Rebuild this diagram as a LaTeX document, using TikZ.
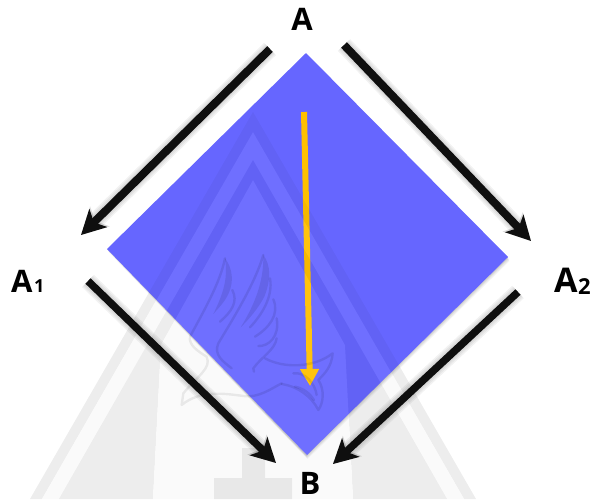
\documentclass[tikz,border=0pt]{standalone}
\usepackage{fontspec}
\setmainfont{Open Sans}
\usetikzlibrary{arrows.meta}
\definecolor{dia}{HTML}{6666FF}
\definecolor{gold}{HTML}{FFC000}
\tikzset{
  x=1pt,y=-1pt,
  lab/.style={inner sep=0pt,text=black,font=\fontsize{31}{31}\selectfont\bfseries},
  blackarrow/.style={draw=black!94,line width=8pt,-{Stealth[length=24pt,width=25pt,inset=6pt]}},
  shadowarrow/.style={draw=black,opacity=.05,-{Stealth[length=26pt,width=27pt,inset=6pt]}},
  goldarrow/.style={draw=gold,line width=6pt,-{Triangle[length=17pt,width=18pt]}},
  wmdark/.style={fill=black,fill opacity=#1,draw=none},
  wmlight/.style={fill=#1,draw=none},
  birdline/.style={draw=black,draw opacity=#1,line width=2.4pt,fill=none,line cap=round,line join=round},
  birdfill/.style={fill=black,fill opacity=#1,draw=none},
}
% #1 opacity of the dark parts, #2 style of the light parts, #3 opacity of the bird
\newcommand{\drawmark}[3]{%
  \fill[wmdark=#1] (253,112) -- (30,499) -- (42,499) -- (253,132) -- (464,499) -- (476,499) -- cycle;
  \fill[#2] (253,132) -- (42,499) -- (59,499) -- (253,160) -- (447,499) -- (464,499) -- cycle;
  \fill[wmdark=#1] (253,160) -- (59,499) -- (153,499) -- (161,345) -- (253,180) -- (345,345) -- (353,499) -- (447,499) -- cycle;
  \fill[#2] (253,180) -- (161,345) -- (153,499) -- (353,499) -- (345,345) -- cycle;
  \fill[wmdark=#1] (242,448) -- (265,448) -- (265,478) -- (292,478) -- (292,499) -- (214,499) -- (214,478) -- (242,478) -- cycle;
  \begin{scope}[shift={(170,240)},x=.3333pt,y=-.3333pt]
    \draw[birdline=#3] (165,55) .. controls (150,130) and (100,215) .. (60,290) .. controls (55,315) and (85,335) .. (110,350) .. controls (125,385) and (85,405) .. (40,460) -- (35,495) .. controls (90,450) and (160,460) .. (220,468) .. controls (265,475) and (305,445) .. (335,430);
    \fill[birdfill=#3] (165,55) .. controls (188,85) and (192,125) .. (176,160) .. controls (165,185) and (145,205) .. (130,222) .. controls (155,170) and (176,120) .. (165,55) -- cycle;
    \draw[birdline=#3] (187,150) .. controls (205,185) and (185,215) .. (150,245);
    \draw[birdline=#3] (280,45) .. controls (255,130) and (190,235) .. (145,310) .. controls (130,345) and (160,365) .. (185,385);
    \fill[birdfill=#3] (280,45) .. controls (303,75) and (303,120) .. (283,170) .. controls (265,205) and (235,240) .. (212,262) .. controls (250,200) and (282,130) .. (280,45) -- cycle;
    \draw[birdline=#3] (300,115) .. controls (310,170) and (275,225) .. (240,262);
    \draw[birdline=#3] (310,178) .. controls (330,225) and (295,265) .. (255,290);
    \draw[birdline=#3] (320,235) .. controls (330,290) and (295,320) .. (265,318);
    \draw[birdline=#3] (320,295) .. controls (315,330) and (275,350) .. (250,385) -- (252,395);
    \draw[birdline=#3] (285,355) .. controls (340,385) and (430,385) .. (488,340) .. controls (485,380) and (465,400) .. (445,420) .. controls (465,450) and (460,490) .. (445,510) .. controls (425,470) and (385,440) .. (335,432);
    \draw[birdline=#3] (370,400) .. controls (405,395) and (435,430) .. (440,465);
    \draw[birdline=#3] (375,440) .. controls (400,445) and (420,460) .. (432,480);
  \end{scope}
}
\begin{document}
\begin{tikzpicture}
\useasboundingbox (0,0) rectangle (593,499);
% watermark on the paper
\begin{scope}
\clip (0,0) rectangle (593,499);
\drawmark{.07}{black!2}{.07}
\end{scope}
% diamond with soft shadow
\foreach \d/\o in {4/.04,3/.05,2/.06,1/.07}{
  \fill[black,opacity=\o] (306+\d*.4,53+\d) -- (508+\d*.4,257+\d) -- (306+\d*.4,455+\d) -- (107+\d*.4,248+\d) -- cycle;
}
\fill[dia] (306,53) -- (508,257) -- (307,455) -- (107,249) -- cycle;
% named ends of the connectors
\coordinate (s1) at (270,49);  \coordinate (e1) at (81,235);
\coordinate (s2) at (344,45);  \coordinate (e2) at (531,241);
\coordinate (s3) at (88,281);  \coordinate (e3) at (276,463);
\coordinate (s4) at (518,292); \coordinate (e4) at (333,464);
\coordinate (s5) at (304,112); \coordinate (e5) at (310,386);
% arrow shadows
\foreach \a in {1,2,3,4}{
  \foreach \w/\dy in {17/4,14/4,11/3}{
    \begin{scope}[shift={(1,\dy)}]
      \draw[shadowarrow,line width=\w pt] (s\a) -- (e\a);
    \end{scope}
  }
}
\draw[blackarrow] (s1) -- (e1);
\draw[blackarrow] (s2) -- (e2);
\draw[blackarrow,line width=7.5pt] (s3) -- (e3);
\draw[blackarrow,line width=7.5pt] (s4) -- (e4);
\draw[goldarrow] (s5) -- (e5);
% watermark seen through the diamond and the yellow arrow
\begin{scope}
\clip (306,53) -- (508,257) -- (307,455) -- (107,249) -- cycle;
\drawmark{.04}{white,fill opacity=.06}{.09}
\end{scope}
% labels
\node[lab] (A) at (302,19) {A};
\node[lab,anchor=base west] (A1) at (11,292) {A\hspace{1.5pt}{\fontsize{18}{18}\selectfont 1}};
\node[lab,anchor=base west,font=\fontsize{34}{34}\selectfont\bfseries] (A2) at (554,292) {A\hspace{.5pt}\raisebox{-2pt}{\fontsize{22}{22}\selectfont 2}};
\node[lab] (B) at (310,483) {B};
\end{tikzpicture}
\end{document}
